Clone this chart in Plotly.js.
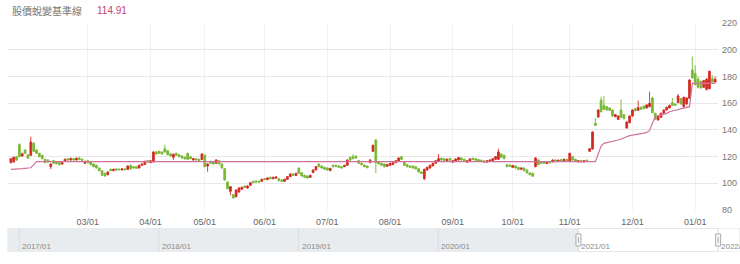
<!DOCTYPE html>
<html>
<head>
<meta charset="utf-8">
<script src="https://cdn.plot.ly/plotly-3.0.1.min.js"></script>
<style>html,body{margin:0;padding:0;background:#fff;}#chart{width:740px;height:264px;}</style>
</head>
<body>
<div id="chart"></div>
<script>
// ---- data ----
const titleText = '股價蛻變基準線';
const titleValue = '114.91';

const monthTickIdx = [27, 49, 68, 89, 111, 133, 155, 176, 196, 218, 240];
const monthLabels = ['03/01','04/01','05/01','06/01','07/01','08/01','09/01','10/01','11/01','12/01','01/01'];

const sliderDates = ['2017-01-01','2018-01-01','2019-01-01','2020-01-01','2021-01-01','2022-01-01'];
const sliderLabels = ['2017/01','2018/01','2019/01','2020/01','2021/01','2022/01'];
const sliderAxisStart = '2016-11-12';
const sliderAxisEnd = '2022-02-27';
const sliderStart = '2016-12-03';
const windowStart = '2021-01-01';
const windowEnd = '2022-01-01';

const openP = [
115.5,116,120,129,120.5,125,121.5,121,130,125,
122.5,121,118,117.5,112.5,117,116,115.5,114.5,116.5,
118.5,117.5,118.5,117.5,119,118,115,117,116,114.5,
113.5,111.5,109.5,107.5,106.5,110.5,109.5,110.8,110.7,110,
110.8,110.3,113.5,112.5,112.5,111.5,113.5,114.2,117,115.5,
116,123.5,124,123.5,126,124.5,122,119.5,122.5,121.5,
120.5,119.5,122.5,120,117.5,118.5,118,117.8,121,113,
116.5,116,115,117,114.5,111,101,94,91.5,90,
93.5,95.5,98,96.5,98.5,101.5,101.8,101.5,101.5,103.5,
102.8,104.5,103.5,103.8,103.5,102.5,101.5,103,105,107,
105.8,111.5,108,106,105.5,104.5,108,110,114.5,113,
112,111.5,109.5,113.5,113.5,113,112.5,112.5,113.5,119.5,
120,120.5,117,115,113.7,113,115.5,124,132.5,116,
115,114.5,112.8,113.5,114,115.5,116.5,120,116,114,
113,113,112.5,111,108.5,103.5,110,111.5,113,115,
116.5,118.8,118.5,117,118.7,115.8,116.5,117.5,119,118,
115.8,116.8,118.8,118.5,117.8,117.3,116.8,115.8,116.3,117,
118,118,122,121,114,113.7,112,113,112,110.5,
111.5,110,107.8,107.5,112.5,117.5,116,116,114.8,116.3,
116,117.5,116.3,117.8,116.8,118,116.3,120,118,116,
117,116,117.3,124,125.7,145,149.7,162.5,158.5,157.5,
156.5,155,150,148,155,151.5,141.5,145.5,150.5,156,
154.8,157,158,156.5,157.5,164,152.5,147.5,149.5,152.5,
155,156.5,160.5,159.5,160.5,163.5,157.5,159.5,163.75,185,
182.5,178,176.5,172,170.5,171,178.5,176
];
const highP = [
119,120,120.5,130,123,125.5,122,135,131,125.5,
123,121.5,118.5,118,115,117.5,116.5,116,116,118.5,
119,119.5,119,119.5,120,118.5,117,117.5,116.5,115,
114,112,110,108,109,111,111,111.2,111,111.3,
111.2,113.5,114,113,113,114,115,117,117.5,117.5,
124,124.5,124.5,124,128.8,125,122.5,122.3,123,122,
121,120,123,120.5,119,119,118.5,122.7,122,115,
117,116.5,118,117.5,115,111.5,101.5,98,92,95.5,
97,97.5,98.5,98.5,101,102,102.2,102,103.5,104,
104.5,105,105,105.3,104,103,103.5,105.5,107.5,107.5,
108,112,108.5,106.5,106,106.5,110.5,113,115,113.5,
112.5,112,111.6,114,114,113.5,113,114,118,120,
122,121,117.5,115.5,114,113.3,118,129,133,116.5,
115.5,115,114.5,115.5,116,117.5,119.5,120.5,116.5,114.5,
113.5,113.5,113,111.5,109,111,112.5,114,115.5,117.5,
122,119.3,119,118.5,119.2,117.5,118.7,119.8,119.5,118.5,
117.5,118.8,119.3,119,118.3,117.8,117.3,117.5,118,119,
120.5,126,122.5,121.5,114.5,114.2,113.8,113.5,112.5,112,
112,110.5,108.3,108,119.5,118,116.5,116.5,116.3,116.8,
118,118,117.8,118.3,118.5,118.5,123,120.5,118.5,117.5,
117.5,117.5,117.8,126.5,139,149,155.5,165,165.5,158,
157,155.5,152,151,163,152,146.5,151,155.5,156.5,
162,157.5,158.5,159.3,168.7,165,153,150.5,153,155.5,
157.5,159,164,160,167,164,165,164.5,178,195,
188.5,180,177,177.5,179,184.5,181,180
];
const lowP = [
115,115.5,117,119.5,120,122,118.5,120.5,123.5,122,
119.5,118,115,115.5,110.7,114.5,114.3,113.5,114,116,
117,117,117.2,117.2,117.5,116.8,114.5,115,113.5,112,
111,109,105.5,105,106,109,109.2,109.5,109.8,109.7,
109.8,110,110.5,111,111,111.2,113.2,114,115.5,115.2,
115.8,121.5,122,121.5,123,121,120,117.5,120.5,119.5,
118.5,118,117.5,118,117,117,116.8,117.5,112,108.7,
114.5,114,114.8,114,111,102,95.5,91,88.5,89.5,
93,95,96.5,96,98.2,100,100.5,100.5,101.2,102.5,
102.5,103,103,103.5,101.5,101,101.2,102.8,104.8,105.5,
105.5,107,105,104,103.5,104.2,107.8,109.8,112,111,
110,109.5,109.2,112,112.3,111.5,111,112.2,113.2,117,
118,118.5,114.5,113.5,112,111.3,115.2,123.5,107.7,114,
113,112,112.5,113.2,113.8,115.2,116.2,117.5,113,112,
111.5,111,110.5,108,107,102.5,109.5,111,112.8,114.8,
116.2,117,116.8,116.7,117,115.5,116.2,117.2,117.2,116.5,
115.5,116.5,117.5,117,116.2,115.9,115.5,115.5,116,116.8,
117.8,117.5,119,118,112,112.3,111.7,111,110,110.2,
109,107.5,106,105,112,113.5,114.5,114.5,114.5,115,
115.7,116,116,116.5,116.5,116.7,116,117,116.2,115.7,
115.7,115.7,116.2,123.5,125.3,143,149.3,153.2,155,154.5,
154.3,150,149.5,147.5,149,148,141,145,150,154,
154.5,155,155.5,156.2,157,152.5,147.5,147,149.2,152.2,
154.7,156.2,158,158.2,160.2,159,157,159,163.3,178.5,
173.5,171,171,171.5,169.5,170.5,175.5,175.5
];
const closeP = [
118.5,119.5,117.5,120,122.2,122.5,118.8,131,124,122.5,
120,118.5,115.5,116,114.5,115,114.7,114,115.5,118,
117.5,118.5,117.5,118.7,117.8,117.3,116.5,115.5,114,112.5,
111.5,109.5,106,105.5,108.5,109.5,110.5,110,110.2,110.8,
110.2,113,110.8,111.5,111.2,113.5,114.5,116.5,116,117,
123.5,122,122.5,122,123.5,121.5,120.5,121.8,121,120,
119,118.3,118,118.5,118.5,117.5,117.2,122,112.5,114.5,
115,114.5,117.5,114.5,111.5,102.5,96,97.5,89,95,
96.5,97,96.8,98,100.5,100.5,101,100.8,103,102.8,
104,103.5,104.5,104.8,102,101.5,103,105,107,106,
107.5,107.5,105.5,104.5,104,106,110,112.5,112.5,111.5,
110.5,110,111.2,112.5,112.7,112,111.5,113.5,117.5,117.5,
118.5,119,115,114,112.5,111.7,117.5,128.5,115.5,114.5,
113.5,112.5,114,115,115.5,117,119,118,113.5,112.5,
112,111.5,110.8,108.5,107.5,110.5,112,113.5,115,117,
118.5,117.5,117.2,118,117.3,117,118.2,119.3,117.5,116.8,
117,118.3,117.8,117.3,116.5,116.2,115.8,117,117.5,118.5,
120,123.5,119.5,118.5,112.5,112.8,113.3,111.5,110.3,111.5,
109.5,107.8,106.5,105.3,119,114,115,115,115.8,115.3,
117.5,116.3,117.3,116.8,118,117,122.5,117.5,116.5,117,
116,117,116.5,126,138.5,143.5,155,153.7,155.5,155,
154.7,150.5,151.5,150.5,149.5,148.5,146,150.5,155,154.5,
156.8,155.5,156,158.8,160,153,148,150,152.5,155,
157,158.5,158.5,158.5,165.5,159.5,164.5,164,177.5,179,
174,172,171.5,177,178,184,176,178
];
const baseline = [
110.5,110.5,110.6,110.8,111.0,111.2,111.4,111.7,114.0,
116.2,116.2,116.2,116.2,116.2,116.2,116.2,116.2,116.2,116.2,116.2,116.2,116.2,116.2,116.2,116.2,116.2,116.2,116.2,116.2,
116.2,116.2,116.2,116.2,116.2,116.2,116.2,116.2,116.2,116.2,116.2,116.2,116.2,116.2,116.2,116.2,116.2,116.2,116.2,116.2,
116.2,116.2,116.2,116.2,116.2,116.2,116.2,116.2,116.2,116.2,116.2,116.2,116.2,116.2,116.2,116.2,116.2,116.2,116.2,116.2,
116.2,116.2,116.2,116.2,116.2,116.2,116.2,116.2,116.2,116.2,116.2,116.2,116.2,116.2,116.2,116.2,116.2,116.2,116.2,116.2,
116.2,116.2,116.2,116.2,116.2,116.2,116.2,116.2,116.2,116.2,116.2,116.2,116.2,116.2,116.2,116.2,116.2,116.2,116.2,116.2,
116.2,116.2,116.2,116.2,116.2,116.2,116.2,116.2,116.2,116.2,116.2,116.2,116.2,116.2,116.2,116.2,116.2,116.2,116.2,116.2,
116.2,116.2,116.2,116.2,116.2,116.2,116.2,116.2,116.2,116.2,116.2,116.2,116.2,116.2,116.2,116.2,116.2,116.2,116.2,116.2,
116.2,116.2,116.2,116.2,116.2,116.2,116.2,116.2,116.2,116.2,116.2,116.2,116.2,116.2,116.2,116.2,116.2,116.2,116.2,116.2,
116.2,116.2,116.2,116.2,116.2,116.2,116.2,116.2,116.2,116.2,116.2,116.2,116.2,116.2,116.2,116.2,116.2,116.2,116.2,116.2,
116.2,116.2,116.2,116.2,116.2,116.2,116.2,116.2,116.2,116.2,116.2,116.2,116.2,116.2,116.2,116.2,116.2,
122,128,130,130.4,130.8,131.2,131.8,132.5,133.2,134.2,
135.2,135.8,136.1,136.4,136.7,137.2,137.7,138.2,139.5,145,
150,150.8,151.4,151.8,152.5,153.7,154.3,154.9,155.5,156.2,
156.8,157.3,157.5,175,175,175,175,175,175,175,175,175
];

// ---- build ----
const idx = openP.map((_, i) => i);
const W = 740, H = 264;
const numFont = 'Liberation Sans, Arial, sans-serif';

const traces = [
  {
    type: 'scatter', mode: 'lines', x: idx, y: baseline,
    line: {color: '#d0739c', width: 1.2}, hoverinfo: 'skip', xaxis: 'x', yaxis: 'y'
  },
  {
    type: 'candlestick', x: idx, open: openP, high: highP, low: lowP, close: closeP,
    increasing: {line: {color: '#d42a22', width: 0.9}, fillcolor: '#d42a22'},
    decreasing: {line: {color: '#78b834', width: 0.9}, fillcolor: '#78b834'},
    whiskerwidth: 0, hoverinfo: 'skip', xaxis: 'x', yaxis: 'y'
  }
];

const shapes = [
  {type: 'rect', xref: 'x2', yref: 'y2', x0: sliderStart, x1: sliderAxisEnd, y0: 0, y1: 1,
   fillcolor: '#ffffff', line: {color: '#e3e3e3', width: 1}, layer: 'below'},
  {type: 'rect', xref: 'x2', yref: 'y2', x0: sliderStart, x1: windowStart, y0: 0, y1: 1,
   fillcolor: '#e9ecef', line: {width: 0}, layer: 'below'}
];
sliderDates.slice(0, 5).forEach(d => shapes.push({
  type: 'line', xref: 'x2', yref: 'y2', x0: d, x1: d, y0: 0, y1: 1,
  line: {color: '#d9dde1', width: 1}
}));
shapes.push({type: 'rect', xref: 'x2', yref: 'y2', x0: windowStart, x1: windowEnd, y0: 0, y1: 1,
  fillcolor: 'rgba(0,0,0,0)', line: {color: '#dcdcdc', width: 1}});
[windowStart, windowEnd].forEach(d => {
  shapes.push({type: 'rect', xref: 'x2', yref: 'y2', xsizemode: 'pixel', xanchor: d, x0: -2.5, x1: 2.5,
    ysizemode: 'pixel', yanchor: 0.5, y0: -6, y1: 6, fillcolor: '#f8f8f8', line: {color: '#aaaaaa', width: 1}});
  shapes.push({type: 'line', xref: 'x2', yref: 'y2', xsizemode: 'pixel', xanchor: d, x0: 0, x1: 0,
    ysizemode: 'pixel', yanchor: 0.5, y0: -3, y1: 3, line: {color: '#aaaaaa', width: 1}});
});

const annotations = [
  {xref: 'paper', yref: 'paper', x: 10 / W, y: 1 - 11 / H, xanchor: 'left', yanchor: 'middle',
   text: titleText, showarrow: false,
   font: {family: 'Noto Sans CJK TC, Noto Sans CJK SC, sans-serif', size: 10, color: '#777777'}},
  {xref: 'paper', yref: 'paper', x: 95 / W, y: 1 - 11 / H, xanchor: 'left', yanchor: 'middle',
   text: titleValue, showarrow: false,
   font: {family: numFont, size: 10, color: '#c4436f'}}
];
sliderDates.forEach((d, i) => annotations.push({
  xref: 'x2', yref: 'y2', x: d, y: 0.22, xanchor: 'left', yanchor: 'middle', xshift: 1,
  text: sliderLabels[i], showarrow: false,
  font: {family: numFont, size: 8, color: '#8a8a8a'}
}));

const layout = {
  width: W, height: H,
  margin: {l: 0, r: 0, t: 0, b: 0, pad: 0, autoexpand: false},
  paper_bgcolor: '#ffffff', plot_bgcolor: '#ffffff',
  showlegend: false,
  boxgap: 0.38, boxgroupgap: 0,
  xaxis: {
    domain: [8 / W, 718 / W], range: [-1, 248], anchor: 'y',
    tickmode: 'array', tickvals: monthTickIdx, ticktext: monthLabels,
    showgrid: true, gridcolor: '#f1f1f1', gridwidth: 1, zeroline: false, showline: false,
    ticks: '', ticklabelstandoff: 5,
    tickfont: {family: numFont, size: 9, color: '#666666'},
    rangeslider: {visible: false}, fixedrange: true
  },
  yaxis: {
    domain: [54 / H, 240.7 / H], range: [80, 220], anchor: 'x', side: 'right',
    tick0: 80, dtick: 20, showgrid: true, gridcolor: '#e8e8e8', zeroline: false, showline: false,
    ticks: '', ticklabelstandoff: 3,
    tickfont: {family: numFont, size: 9, color: '#777777'}, fixedrange: true
  },
  xaxis2: {domain: [0, 1], anchor: 'y2', type: 'date', range: [sliderAxisStart, sliderAxisEnd], visible: false, fixedrange: true},
  yaxis2: {domain: [12 / H, 36 / H], anchor: 'x2', range: [0, 1], visible: false, fixedrange: true},
  shapes: shapes,
  annotations: annotations
};

Plotly.newPlot('chart', traces, layout, {staticPlot: true, displayModeBar: false});
</script>
</body>
</html>
